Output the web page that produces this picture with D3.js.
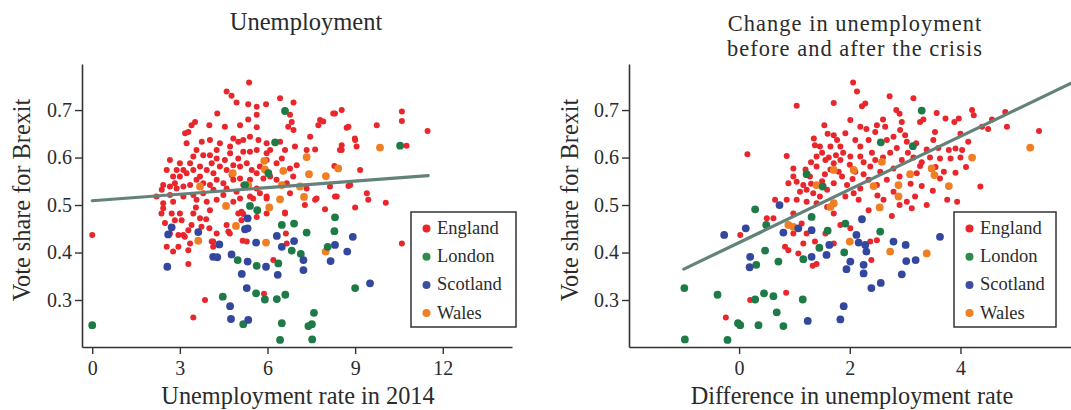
<!DOCTYPE html>
<html><head><meta charset="utf-8">
<script src="https://cdn.jsdelivr.net/npm/d3@7"></script>
<style>
html,body{margin:0;padding:0;background:#fff;}
svg{display:block;}
text{font-family:"Liberation Serif","Times New Roman",serif;fill:#2b2b2b;}
</style></head>
<body><svg id="chart" width="1071" height="410"></svg>
<script>
// ---------- data ----------
const regions = ["England", "London", "Scotland", "Wales"];
const leftTitle = ["Unemployment"];
const rightTitle = ["Change in unemployment", "before and after the crisis"];
const leftXLabel = "Unemployment rate in 2014";
const rightXLabel = "Difference in unemployment rate";
const yLabel = "Vote share for Brexit";
const leftXTicks = [0, 3, 6, 9, 12];
const rightXTicks = [0, 2, 4];
const yTicks = [0.3, 0.4, 0.5, 0.6, 0.7];

// Left panel: [unemployment rate 2014, leave share]
const leftEngland = [
[5.37,0.758],[4.60,0.739],[4.77,0.730],[4.94,0.716],[5.34,0.712],[5.63,0.707],[5.95,0.712],[6.43,0.725],[6.89,0.716],
[3.52,0.675],[3.40,0.668],[3.18,0.651],[3.29,0.654],[4.01,0.668],[4.54,0.665],[5.06,0.668],[5.63,0.664],[4.28,0.693],
[5.63,0.690],[5.34,0.680],[6.77,0.690],[6.83,0.675],[6.71,0.665],[6.89,0.658],[7.80,0.679],[7.91,0.676],[8.31,0.693],
[8.54,0.700],[7.74,0.668],[8.77,0.665],[7.46,0.644],[6.94,0.623],[7.34,0.616],[7.63,0.617],[8.54,0.616],[8.99,0.640],
[9.05,0.623],[9.00,0.637],[9.74,0.668],[10.6,0.697],[10.6,0.677],[10.76,0.625],[11.48,0.656],[8.71,0.663],[8.25,0.693],
[3.75,0.633],[3.57,0.616],[4.03,0.637],[4.37,0.630],[4.83,0.640],[5.00,0.633],[5.40,0.644],[5.69,0.637],[5.97,0.630],
[6.43,0.633],[6.60,0.616],[6.49,0.598],[5.97,0.609],[5.63,0.616],[5.40,0.612],[5.17,0.612],[5.00,0.598],[4.72,0.609],
[4.54,0.595],[4.26,0.598],[4.03,0.605],[3.80,0.605],[3.46,0.602],[3.35,0.588],[3.12,0.574],[2.89,0.574],[2.77,0.560],
[2.83,0.546],[3.00,0.560],[3.23,0.567],[3.46,0.574],[3.69,0.581],[3.92,0.574],[4.09,0.588],[4.37,0.581],[4.60,0.574],
[4.83,0.584],[5.06,0.581],[5.29,0.588],[5.46,0.574],[5.74,0.581],[5.97,0.595],[6.31,0.588],[6.77,0.577],[7.00,0.584],
[6.88,0.560],[6.66,0.546],[6.31,0.553],[6.09,0.560],[5.86,0.556],[5.40,0.553],[5.06,0.556],[4.83,0.553],[4.49,0.546],
[4.26,0.553],[4.03,0.542],[3.80,0.546],[3.57,0.553],[3.35,0.542],[3.12,0.539],[2.89,0.535],[2.66,0.539],[2.43,0.542],
[2.38,0.532],[2.20,0.518],[2.43,0.504],[2.77,0.507],[3.12,0.518],[3.46,0.521],[3.80,0.525],[4.15,0.532],[4.49,0.521],
[4.94,0.528],[5.40,0.518],[5.74,0.525],[5.97,0.514],[6.77,0.525],[7.68,0.514],[8.37,0.518],[8.83,0.542],[9.17,0.574],
[9.40,0.525],[8.14,0.539],[8.54,0.626],[7.34,0.535],[8.48,0.616],[8.29,0.582],[8.77,0.540],
[2.66,0.595],[2.55,0.574],[3.23,0.630],[4.72,0.623],[5.17,0.637],[6.09,0.616],[4.26,0.616],[3.69,0.560],[4.15,0.567],
[4.77,0.563],[5.63,0.567],[3.00,0.588],[4.60,0.535],[5.17,0.542],[5.63,0.535],[2.66,0.521],[3.57,0.511],[3.92,0.507],
[4.26,0.511],[4.83,0.507],[5.06,0.514],
[2.43,0.493],[2.72,0.482],[3.00,0.482],[2.83,0.468],[3.06,0.468],[3.46,0.482],[3.40,0.458],[3.69,0.472],[4.03,0.489],
[4.01,0.451],[4.60,0.458],[4.66,0.444],[5.00,0.482],[5.17,0.481],[5.97,0.482],[6.60,0.484],[6.63,0.440],[7.97,0.491],
[9.00,0.495],[7.28,0.500],[2.55,0.412],[2.77,0.402],[2.95,0.412],[3.35,0.419],[3.29,0.405],[3.12,0.437],[2.95,0.437],
[4.09,0.423],[5.15,0.425],[5.29,0.423],[6.20,0.384],[3.29,0.376],[3.86,0.300],[3.46,0.263],[5.88,0.313],
[2.37,0.482],[2.66,0.440],[3.17,0.433],[3.29,0.447],[3.74,0.454],[4.26,0.440],[4.71,0.440],[5.11,0.468],[5.63,0.475],
[5.97,0.518],[5.51,0.514],[6.60,0.482],[6.66,0.419],[7.63,0.511],[8.31,0.518],[9.45,0.511],[10.05,0.505],[10.6,0.419],
[0.00,0.437],[4.14,0.412],[4.14,0.423],[5.11,0.486],[2.49,0.462],[3.55,0.495],[3.90,0.470]
];
const leftLondon = [
[0.00,0.247],[6.60,0.698],[6.26,0.632],[10.54,0.625],[6.03,0.567],[5.23,0.542],
[5.40,0.498],[5.65,0.489],[6.49,0.458],[6.91,0.461],[7.34,0.442],[8.31,0.474],[8.29,0.445],[8.06,0.412],
[6.83,0.404],[7.14,0.397],[4.98,0.384],[5.63,0.372],[6.37,0.377],[4.47,0.307],[5.61,0.314],[5.91,0.301],
[6.32,0.302],[6.61,0.311],[5.17,0.249],[6.49,0.251],[7.59,0.273],[7.40,0.245],[7.52,0.249],[6.43,0.216],
[7.53,0.217],[9.00,0.325]
];
const leftScotland = [
[2.72,0.453],[2.60,0.438],[3.63,0.443],[4.35,0.417],[4.14,0.391],[4.28,0.390],[2.57,0.370],[4.77,0.396],
[5.32,0.472],[5.23,0.449],[5.32,0.451],[5.61,0.421],[5.32,0.381],[5.95,0.370],[5.12,0.355],[6.35,0.353],
[6.32,0.435],[6.49,0.412],[6.91,0.424],[7.23,0.384],[7.23,0.363],[5.29,0.325],[4.72,0.287],[4.75,0.260],
[5.34,0.258],[8.16,0.382],[8.31,0.416],[8.73,0.402],[8.92,0.433],[9.51,0.335]
];
const leftWales = [
[7.34,0.601],[8.42,0.577],[8.00,0.561],[7.42,0.565],[9.85,0.621],[7.25,0.517],[6.43,0.512],[6.06,0.495],
[5.95,0.421],[4.92,0.456],[4.58,0.498],[7.99,0.402],[5.89,0.593],[6.54,0.572],[5.91,0.575],[4.81,0.567],
[5.34,0.542],[3.69,0.539],[6.49,0.542],[3.63,0.425],[7.11,0.539]
];

// Right panel: [change in unemployment rate, leave share]
const rightEngland = [
[2.06,0.758],[2.13,0.739],[2.22,0.708],[2.28,0.714],[1.04,0.709],[1.71,0.715],[2.72,0.729],[3.15,0.725],[2.84,0.700],
[2.90,0.692],[3.57,0.694],[3.73,0.682],[3.89,0.675],[3.97,0.682],[4.21,0.700],[4.24,0.689],[4.81,0.696],[4.57,0.680],
[4.39,0.665],[5.42,0.656],[1.54,0.668],[2.01,0.679],[2.19,0.665],[2.49,0.668],[2.64,0.665],[2.94,0.675],[2.91,0.658],
[3.27,0.675],[3.33,0.680],
[0.15,0.607],[0.86,0.603],[0.98,0.577],[0.98,0.560],[0.89,0.546],[1.37,0.626],[1.46,0.623],[1.40,0.602],[1.71,0.647],
[1.77,0.637],[1.65,0.623],[1.83,0.623],[1.92,0.651],[2.10,0.637],[2.19,0.623],[2.34,0.637],[2.46,0.654],[2.67,0.637],
[2.79,0.644],[3.00,0.647],[3.03,0.633],[3.39,0.617],[3.51,0.637],[3.79,0.616],[3.91,0.619],[3.63,0.598],[3.82,0.598],
[3.91,0.568],[3.63,0.556],[3.27,0.582],[3.21,0.567],[2.94,0.595],[2.79,0.577],[2.73,0.610],[2.46,0.595],[2.37,0.581],
[2.19,0.602],[2.01,0.602],[1.83,0.595],[1.71,0.588],[1.56,0.595],[1.40,0.581],[1.28,0.560],[1.16,0.542],[1.10,0.528],
[1.04,0.549],[1.22,0.532],[1.34,0.525],[1.46,0.518],[1.59,0.532],[1.71,0.546],[1.86,0.560],[1.95,0.542],[2.07,0.525],
[2.19,0.535],[2.34,0.553],[2.49,0.542],[2.67,0.553],[2.79,0.528],[2.61,0.511],[3.03,0.507],[3.18,0.518],[3.39,0.500],
[3.76,0.511],[3.94,0.507],[2.76,0.477],[3.12,0.493],[2.34,0.489],[2.16,0.511],[1.92,0.518],[1.71,0.482],[1.83,0.458],
[1.59,0.496],[1.40,0.504],[1.22,0.507],[1.04,0.511],[0.86,0.511],[0.65,0.511],[0.50,0.472],[0.62,0.472],[0.98,0.482],
[1.13,0.461],[1.22,0.440],[1.16,0.419],[0.98,0.440],[0.83,0.412],[0.89,0.405],[1.07,0.398],[1.40,0.376],[1.37,0.423],
[1.56,0.440],[1.71,0.419],[2.01,0.451],[2.37,0.423],[2.39,0.384],[2.49,0.426],[0.02,0.437],[-0.24,0.263],[0.20,0.300],
[0.85,0.315],[1.33,0.372],[4.36,0.539],[4.14,0.633],[4.03,0.616],[4.84,0.665],[3.54,0.654],
[1.50,0.610],[1.62,0.600],[1.75,0.605],[1.88,0.610],[2.00,0.585],[2.10,0.570],[2.25,0.590],[2.40,0.610],[1.30,0.590],
[1.20,0.575],[1.55,0.565],[1.65,0.575],[1.80,0.570],[2.05,0.555],[2.25,0.565],[2.55,0.570],[2.60,0.600],[2.85,0.620],
[3.05,0.610],[3.15,0.600],[3.30,0.590],[3.45,0.600],[3.55,0.580],[3.70,0.570],[2.90,0.560],[3.10,0.545],[3.30,0.540],
[3.50,0.530],[1.30,0.545],[1.50,0.550],[2.50,0.520],[2.90,0.500],[3.60,0.620],[3.20,0.630],[1.60,0.650],[2.30,0.660],
[2.60,0.680],[1.35,0.640],[4.00,0.600],[4.10,0.580],[4.50,0.660],[4.00,0.650]
];
const rightLondon = [
[-0.99,0.325],[-0.98,0.217],[-0.39,0.311],[-0.21,0.216],[-0.02,0.251],[0.02,0.247],[0.35,0.247],[0.29,0.301],
[0.45,0.314],[0.62,0.308],[0.68,0.274],[0.80,0.245],[1.15,0.301],[0.31,0.374],[0.47,0.404],[0.71,0.381],
[1.16,0.386],[0.29,0.491],[0.49,0.458],[1.22,0.565],[1.31,0.475],[1.45,0.410],[1.51,0.539],[1.60,0.446],
[1.90,0.400],[1.92,0.461],[2.55,0.444],[2.56,0.632],[3.14,0.624],[3.30,0.699]
];
const rightScotland = [
[-0.27,0.437],[0.12,0.451],[0.20,0.391],[0.19,0.369],[0.73,0.500],[0.80,0.442],[1.07,0.451],[1.31,0.447],
[1.31,0.391],[1.63,0.416],[1.58,0.395],[1.24,0.256],[1.83,0.259],[1.89,0.287],[1.94,0.365],[2.01,0.381],
[2.12,0.437],[2.16,0.421],[2.22,0.470],[2.28,0.416],[2.30,0.402],[2.25,0.374],[2.25,0.356],[2.39,0.325],
[2.56,0.336],[2.79,0.423],[3.01,0.416],[3.02,0.382],[3.19,0.384],[2.94,0.354],[3.63,0.433]
];
const rightWales = [
[5.26,0.621],[4.21,0.600],[3.79,0.540],[3.48,0.577],[3.53,0.563],[3.39,0.398],[2.73,0.402],[3.09,0.565],
[2.88,0.518],[2.88,0.542],[2.54,0.495],[2.43,0.540],[2.58,0.591],[2.07,0.574],[2.00,0.423],[1.71,0.574],
[1.65,0.496],[1.71,0.504],[1.40,0.542],[0.89,0.458],[0.98,0.454]
];

// fitted lines: endpoints [x, share]
const leftFit = [[0, 0.509], [11.5, 0.562]];
const rightFit = [[-1, 0.365], [6.1, 0.762]];

// ---------- drawing ----------
const colorScale = d3.scaleOrdinal().domain(regions)
  .range(["#e8262b", "#1e7a46", "#34479e", "#f07e22"]);
const legendColor = d3.scaleOrdinal().domain(regions)
  .range(["#e8262b", "#2e8b4a", "#3b4ea3", "#f07e22"]);
const radius = {England: 3.0, London: 3.9, Scotland: 3.9, Wales: 3.9};

const svg = d3.select("#chart");

function panel(cfg) {
  const x = d3.scaleLinear().domain(cfg.xDomain).range(cfg.xRange);
  const y = d3.scaleLinear().domain([0.201, 0.797]).range([347, 64]);
  const g = svg.append("g");
  const clipId = "clip" + cfg.id;
  svg.append("clipPath").attr("id", clipId).append("rect")
    .attr("x", cfg.xRange[0]).attr("y", 64)
    .attr("width", cfg.xRange[1] - cfg.xRange[0]).attr("height", 283);

  const series = [
    ["England", cfg.data.England], ["Wales", cfg.data.Wales],
    ["London", cfg.data.London], ["Scotland", cfg.data.Scotland]
  ];
  const pts = g.append("g").attr("clip-path", `url(#${clipId})`);
  series.forEach(([name, arr]) => {
    pts.selectAll(null).data(arr).enter().append("circle")
      .attr("cx", d => x(d[0])).attr("cy", d => y(d[1]))
      .attr("r", radius[name]).attr("fill", colorScale(name));
  });

  pts.append("path").datum(cfg.fit)
    .attr("d", d3.line().x(d => x(d[0])).y(d => y(d[1])))
    .attr("stroke", "#62827a").attr("stroke-width", 3.2)
    .attr("fill", "none").attr("stroke-linecap", "round");

  const xAxis = g.append("g").attr("transform", "translate(0,347)")
    .call(d3.axisBottom(x).tickValues(cfg.xTicks).tickSize(7).tickSizeOuter(0)
      .tickPadding(7).tickFormat(d3.format("d")));
  const yAxis = g.append("g").attr("transform", `translate(${cfg.xRange[0]},0)`)
    .call(d3.axisLeft(y).tickValues(yTicks).tickSize(7).tickSizeOuter(0)
      .tickPadding(3).tickFormat(d3.format(".1f")));
  [xAxis, yAxis].forEach(a => {
    a.select(".domain").attr("stroke", "#333").attr("stroke-width", 1.6);
    a.selectAll(".tick line").attr("stroke", "#333").attr("stroke-width", 1.4);
    a.selectAll(".tick text").style("font-family", '"Liberation Serif",serif')
      .style("font-size", "20px").attr("fill", "#2b2b2b");
  });

  // axis labels
  g.append("text").attr("x", cfg.xLabelX).attr("y", 404)
    .attr("text-anchor", "middle").style("font-size", "24.3px").text(cfg.xLabel);
  g.append("text").attr("transform", `translate(${cfg.yLabelX},200) rotate(-90)`)
    .attr("text-anchor", "middle").style("font-size", "24.3px").text(yLabel);

  // title
  cfg.title.forEach((t, i) => {
    g.append("text").attr("x", cfg.titleX).attr("y", cfg.titleY + i * 25)
      .attr("text-anchor", "middle")
      .style("font-size", cfg.title.length > 1 ? "22.4px" : "24.5px")
      .style("letter-spacing", cfg.title.length > 1 ? "1.05px" : "0px")
      .text(t);
  });

  // legend
  const lg = g.append("g").attr("transform", `translate(${cfg.legendX},212)`);
  lg.append("rect").attr("width", cfg.legendW).attr("height", 115)
    .attr("fill", "#fff").attr("stroke", "#333").attr("stroke-width", 1.5);
  regions.forEach((r, i) => {
    const row = lg.append("g").attr("transform", `translate(0,${16.5 + i * 28.2})`);
    row.append("circle").attr("cx", 15.5).attr("cy", 0).attr("r", 4).attr("fill", legendColor(r));
    row.append("text").attr("x", 26).attr("y", 5.5).style("font-size", "18.5px").text(r);
  });
}

panel({
  id: "L", xDomain: [-0.35, 14.37], xRange: [82, 512],
  data: {England: leftEngland, London: leftLondon, Scotland: leftScotland, Wales: leftWales},
  fit: leftFit, xTicks: leftXTicks, xLabel: leftXLabel, xLabelX: 298, yLabelX: 30,
  title: leftTitle, titleX: 306, titleY: 30, legendX: 411, legendW: 105
});
panel({
  id: "R", xDomain: [-1.99, 6.07], xRange: [629, 1075],
  data: {England: rightEngland, London: rightLondon, Scotland: rightScotland, Wales: rightWales},
  fit: rightFit, xTicks: rightXTicks, xLabel: rightXLabel, xLabelX: 852, yLabelX: 578,
  title: rightTitle, titleX: 855, titleY: 31, legendX: 954, legendW: 102
});
</script></body></html>
